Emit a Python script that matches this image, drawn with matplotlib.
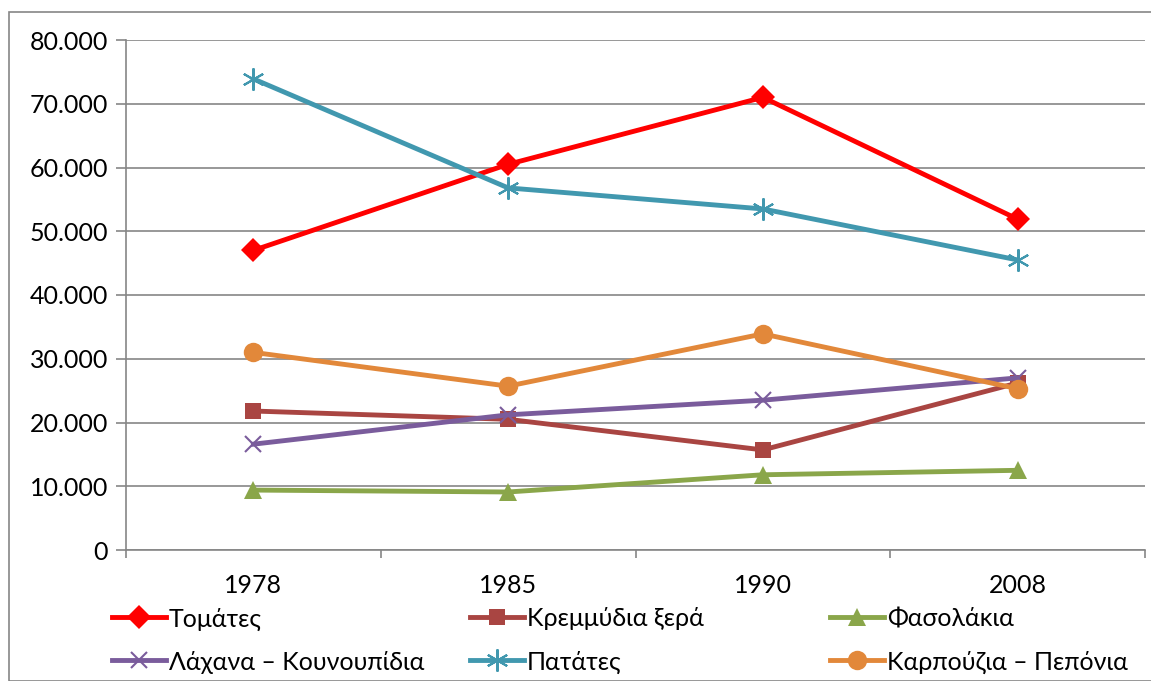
from matplotlib import pyplot as plt
from matplotlib import patches
from matplotlib.lines import Line2D
from matplotlib.ticker import FuncFormatter, FixedLocator

years = ['1978', '1985', '1990', '2008']

tomates = [47000, 60500, 71000, 51900]
kremmydia = [21800, 20500, 15700, 26200]
fasolakia = [9400, 9100, 11800, 12500]
lachana = [16600, 21200, 23500, 27000]
patates = [73900, 56800, 53500, 45500]
karpouzia = [31000, 25700, 33900, 25300]

series = [
    ('Τομάτες', tomates, '#FF0000', 'D', 12),
    ('Κρεμμύδια ξερά', kremmydia, '#A94542', 's', 12),
    ('Φασολάκια', fasolakia, '#8AA64A', '^', 13),
    ('Λάχανα – Κουνουπίδια', lachana, '#7A5C9C', 'x', 12),
    ('Πατάτες', patates, '#4198AF', (6, 2, 0), 16),
    ('Καρπούζια – Πεπόνια', karpouzia, '#E2883A', 'o', 14),
]

plt.rcParams['font.family'] = ['Lato', 'DejaVu Sans']

W, H = 1151, 681
fig = plt.figure(figsize=(W/100, H/100), dpi=100)
ax = fig.add_axes([126/W, 131/H, 1019/W, 510/H])

x = list(range(len(years)))
styles = {}
for name, vals, color, marker, ms in series:
    mew = 1.5 if marker in ('x', (6, 2, 0)) else 0
    ax.plot(x, vals, color=color, lw=3.5, marker=marker, markersize=ms,
            markeredgewidth=mew, markeredgecolor=color, solid_joinstyle='miter')
    styles[name] = dict(color=color, lw=3.5, marker=marker, markersize=ms,
                        markeredgewidth=mew, markeredgecolor=color)

ax.set_xlim(-0.5, 3.5)
ax.set_ylim(0, 80000)
ax.set_yticks(range(0, 80001, 10000))
ax.yaxis.set_major_formatter(FuncFormatter(lambda v, p: '0' if v == 0 else f'{int(v):,}'.replace(',', '.')))
ax.set_xticks(x)
ax.set_xticklabels(years)
ax.xaxis.set_minor_locator(FixedLocator([-0.5, 0.5, 1.5, 2.5, 3.5]))
ax.tick_params(axis='x', which='major', length=0, pad=17, labelsize=18)
ax.tick_params(axis='x', which='minor', length=6, color='#868686', width=1.2)
ax.tick_params(axis='y', length=7, color='#868686', width=1.2, labelsize=18, pad=6)

ax.grid(axis='y', color='#868686', lw=1.2)
ax.set_axisbelow(True)
for s in ['top', 'right']:
    ax.spines[s].set_visible(False)
for s in ['left', 'bottom']:
    ax.spines[s].set_color('#868686')
    ax.spines[s].set_linewidth(1.2)

# legend drawn by hand: three columns, two rows
legend_cols = [112, 470, 830]
legend_rows = [617, 660]
legend_grid = [
    ['Τομάτες', 'Κρεμμύδια ξερά', 'Φασολάκια'],
    ['Λάχανα – Κουνουπίδια', 'Πατάτες', 'Καρπούζια – Πεπόνια'],
]
for row, names in zip(legend_rows, legend_grid):
    for col, name in zip(legend_cols, names):
        y = 1 - row/H
        st = dict(styles[name])
        marker = st.pop('marker')
        ms = st.pop('markersize')
        fig.add_artist(Line2D([col/W, (col + 54)/W], [y, y], transform=fig.transFigure,
                              color=st['color'], lw=st['lw']))
        fig.add_artist(Line2D([(col + 27)/W], [y], transform=fig.transFigure,
                              marker=marker, markersize=ms, color=st['color'],
                              markeredgewidth=st['markeredgewidth'],
                              markeredgecolor=st['markeredgecolor'], lw=0))
        fig.text((col + 57)/W, y, name, fontsize=18, va='center_baseline', ha='left')

border = patches.Rectangle((9/W, 0), 1.2, 1 - 12/H, transform=fig.transFigure,
                           fill=False, edgecolor='#868686', lw=1.2)
fig.patches.append(border)

fig.savefig('out.png', dpi=100)
